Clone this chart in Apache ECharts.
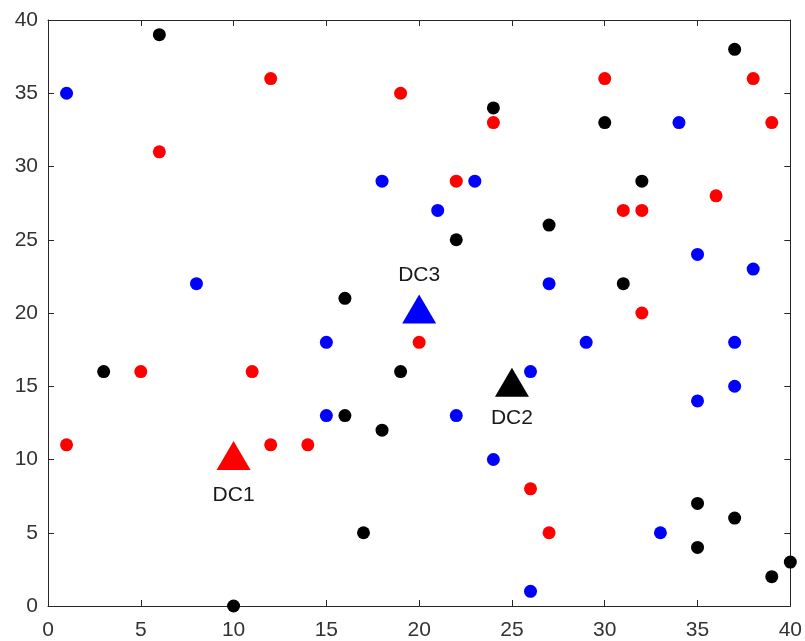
<!DOCTYPE html>
<html>
<head>
<meta charset="utf-8">
<script src="https://cdn.jsdelivr.net/npm/echarts@6/dist/echarts.min.js"></script>
<style>html,body{margin:0;padding:0;background:#fff}#c{width:805px;height:641px}</style>
</head>
<body>
<div id="c"></div>
<script>
// Customer points per distribution centre
const redPoints = [[1,11],[5,16],[11,16],[12,11],[14,11],[6,31],[12,36],[19,35],[24,33],[22,29],[20,18],[30,36],[31,27],[32,27],[36,28],[32,20],[38,36],[39,33],[26,8],[27,5]];
const blackPoints = [[6,39],[24,34],[30,33],[37,38],[32,29],[27,26],[22,25],[31,22],[16,21],[3,16],[19,16],[16,13],[18,12],[17,5],[10,0],[35,7],[37,6],[35,4],[39,2],[40,3]];
const bluePoints = [[1,35],[8,22],[18,29],[21,27],[23,29],[15,18],[15,13],[22,13],[24,10],[26,16],[26,1],[27,22],[29,18],[33,5],[34,33],[35,24],[35,14],[37,18],[37,15],[38,23]];
// Distribution centres
const dcNames = ['DC1','DC2','DC3'];
const dcX = [10,25,20];
const dcY = [10,15,20];
const dcColors = ['#ff0000','#000000','#0000ff'];
const dcLabelOffsets = [40,36,-34];
// Axis ticks
const axisMin = 0, axisMax = 40, axisStep = 5;

const axisColor = '#262626';
const font = 'Liberation Sans, Arial, sans-serif';

function mainAxis(pos){
  return {
    type:'value', position:pos, min:axisMin, max:axisMax, interval:axisStep,
    axisLine:{show:true, onZero:false, lineStyle:{color:axisColor, width:1}},
    axisTick:{show:true, inside:true, length:6, lineStyle:{color:axisColor}},
    axisLabel:{show:true, color:'#333333', fontSize:21, fontFamily:font, margin: pos==='bottom'?14:10},
    splitLine:{show:false}
  };
}
function sideAxis(pos){
  return {
    type:'value', position:pos, min:axisMin, max:axisMax, interval:axisStep,
    axisLine:{show:true, onZero:false, lineStyle:{color:axisColor, width:1}},
    axisTick:{show:true, inside:true, length:6, lineStyle:{color:axisColor}},
    axisLabel:{show:false},
    splitLine:{show:false}
  };
}

const dotSeries = (data, color) => ({
  type:'scatter', data:data, symbol:'circle', symbolSize:13,
  itemStyle:{color:color, opacity:1}, silent:true, z:3
});

const dcData = dcNames.map((n,i)=>({
  name:n, value:[dcX[i], dcY[i]],
  itemStyle:{color:dcColors[i]},
  label:{show:true, formatter:n, position:'inside', offset:[0,dcLabelOffsets[i]], color:'#1a1a1a', fontSize:21, fontFamily:font}
}));

const chart = echarts.init(document.getElementById('c'), null, {renderer:'canvas'});
chart.setOption({
  animation:false,
  backgroundColor:'#ffffff',
  grid:{left:48, right:13, top:20, bottom:35, containLabel:false},
  xAxis:[mainAxis('bottom'), sideAxis('top')],
  yAxis:[mainAxis('left'), sideAxis('right')],
  series:[
    dotSeries(redPoints,'#ff0000'),
    dotSeries(blackPoints,'#000000'),
    dotSeries(bluePoints,'#0000ff'),
    {type:'scatter', data:dcData, symbol:'triangle', symbolSize:[34,29], symbolOffset:[0,-4], silent:true, z:4,
     itemStyle:{opacity:1}}
  ]
});
</script>
</body>
</html>
